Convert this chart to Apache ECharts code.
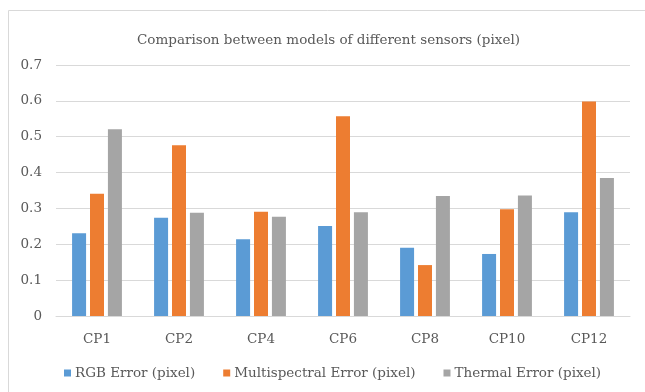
<!DOCTYPE html>
<html>
<head>
<meta charset="utf-8">
<script src="https://cdn.jsdelivr.net/npm/echarts@6/dist/echarts.min.js"></script>
<style>html,body{margin:0;padding:0;background:#fff}#c{width:645px;height:392px}</style>
</head>
<body>
<div id="c"></div>
<script>
var categories = ['CP1','CP2','CP4','CP6','CP8','CP10','CP12'];
var rgbError = [0.231, 0.274, 0.214, 0.251, 0.190, 0.173, 0.289];
var multispectralError = [0.341, 0.476, 0.291, 0.557, 0.142, 0.298, 0.598];
var thermalError = [0.521, 0.288, 0.277, 0.289, 0.335, 0.336, 0.385];
var seriesNames = ['RGB Error (pixel)', 'Multispectral Error (pixel)', 'Thermal Error (pixel)'];
var titleText = 'Comparison between models of different sensors (pixel)';

var FONT = 'DejaVu Serif';
var TXT = '#595959';
var FS = 13.5;
var chart = echarts.init(document.getElementById('c'), null, {renderer: 'canvas'});
chart.setOption({
  animation: false,
  color: ['#5B9BD5', '#ED7D31', '#A5A5A5'],
  graphic: [{
    type: 'rect', shape: {x: 8.5, y: 10.5, width: 700, height: 400},
    style: {fill: 'none', stroke: '#D9D9D9', lineWidth: 1}, silent: true
  }],
  title: {
    text: titleText, left: 132, top: 28,
    textStyle: {fontFamily: FONT, fontSize: FS, fontWeight: 'normal', color: TXT}
  },
  legend: {
    bottom: 7, left: 59, itemWidth: 7, itemHeight: 7, itemGap: 28,
    icon: 'rect',
    textStyle: {fontFamily: FONT, fontSize: FS, color: TXT, padding: [0,0,0,-1]},
    data: seriesNames
  },
  grid: {left: 56, right: 15, top: 65, bottom: 76, containLabel: false},
  xAxis: {
    type: 'category', data: categories,
    axisLine: {lineStyle: {color: '#D9D9D9'}},
    axisTick: {show: false},
    axisLabel: {fontFamily: FONT, fontSize: FS, color: TXT, margin: 16}
  },
  yAxis: {
    type: 'value', min: 0, max: 0.7, interval: 0.1,
    axisLine: {show: false}, axisTick: {show: false},
    splitLine: {lineStyle: {color: '#D9D9D9'}},
    axisLabel: {fontFamily: FONT, fontSize: FS, color: TXT, margin: 14,
      formatter: function(v){ return v === 0 ? '0' : v.toFixed(1); }}
  },
  series: [
    {name: seriesNames[0], type: 'bar', data: rgbError, barWidth: 14, barGap: '28%'},
    {name: seriesNames[1], type: 'bar', data: multispectralError, barWidth: 14, barGap: '28%'},
    {name: seriesNames[2], type: 'bar', data: thermalError, barWidth: 14, barGap: '28%'}
  ]
});
</script>
</body>
</html>
